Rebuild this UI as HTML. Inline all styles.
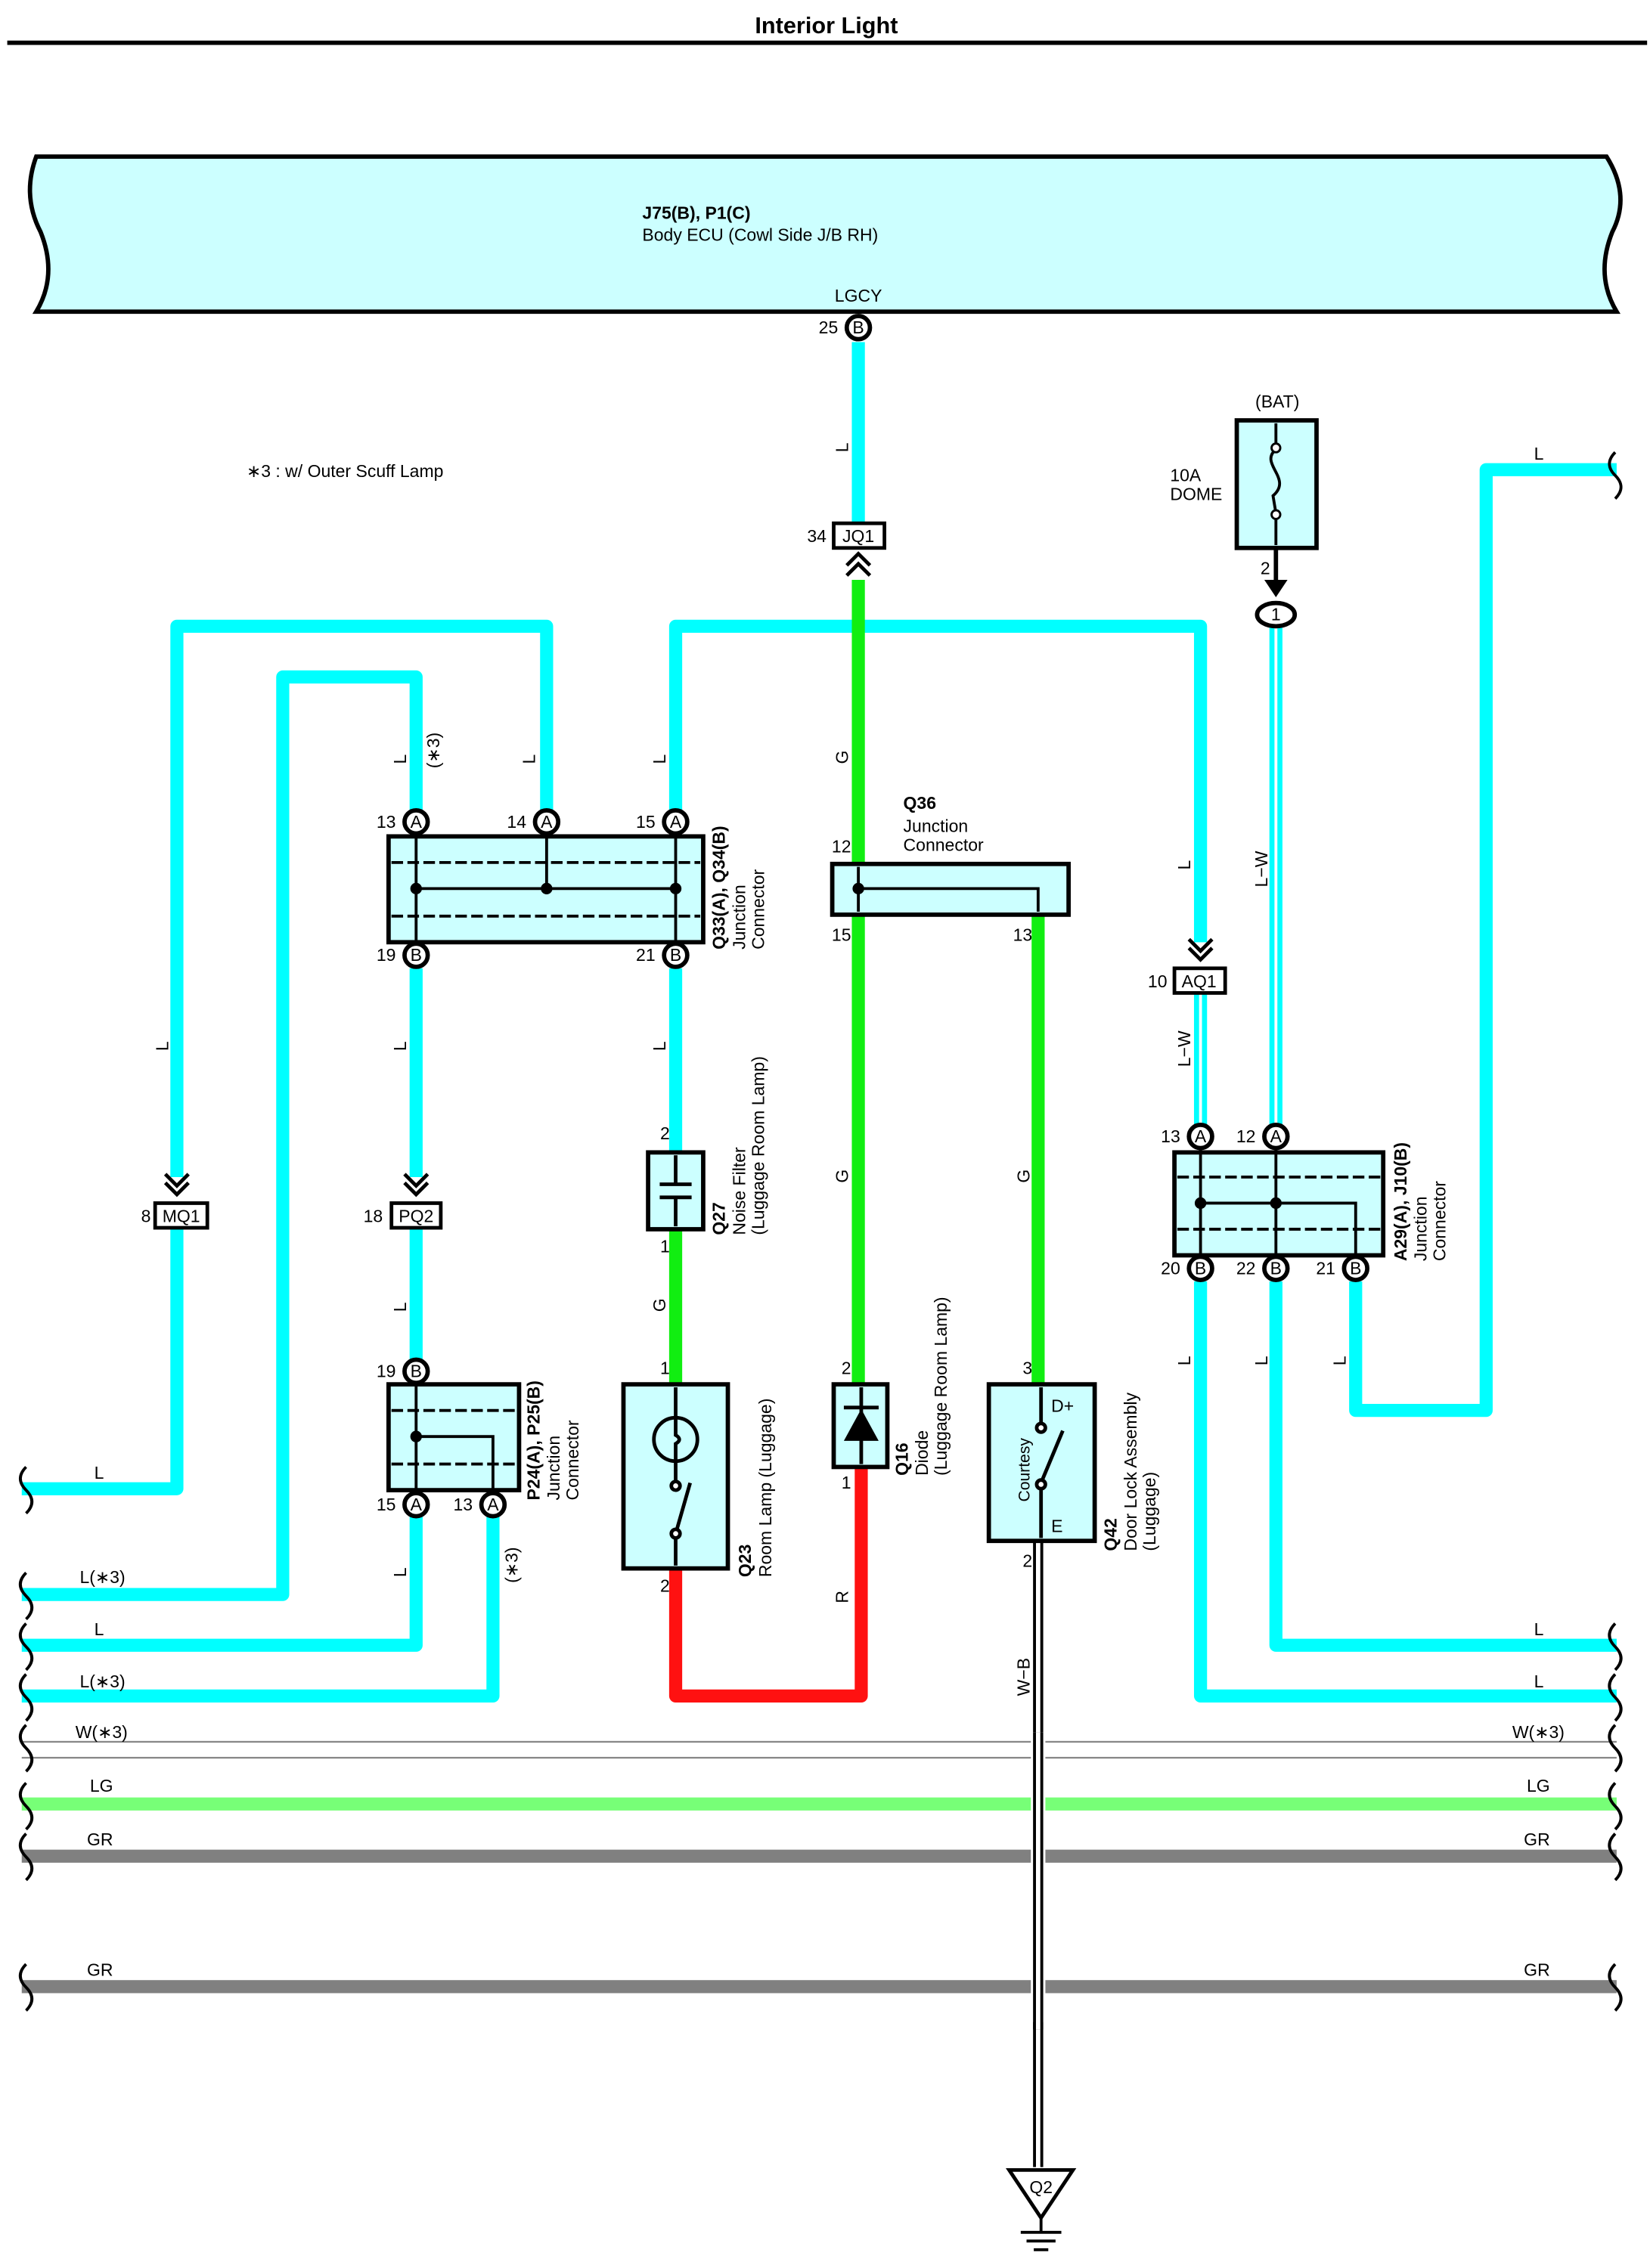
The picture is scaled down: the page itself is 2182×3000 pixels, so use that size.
<!DOCTYPE html>
<html><head><meta charset="utf-8"><style>
html,body{margin:0;padding:0;background:#fff}
svg{display:block}
text{font-family:"Liberation Sans",sans-serif;font-size:12px;fill:#000}
.b{font-weight:bold}
</style></head><body>
<svg width="2182" height="3000" viewBox="0 0 1138 1564.6" preserveAspectRatio="none" xmlns="http://www.w3.org/2000/svg">
<defs>
<g id="chev"><path d="M-8,-8 L0,0 L8,-8 M-8,-2 L0,6 L8,-2" fill="none" stroke="#000" stroke-width="2.5"/></g>
</defs>
<text x="570" y="23" text-anchor="middle" class="b" style="font-size:16px">Interior Light</text>
<rect x="5" y="28" width="1131" height="3" fill="#000"/>

<!-- ECU -->
<path d="M25,108 L1108,108 Q1125,135 1112,160 Q1100,190 1115,215 L25,215 Q40,190 28,160 Q15,135 25,108 Z" fill="#ccffff" stroke="#000" stroke-width="3"/>
<text x="443" y="151" class="b">J75(B), P1(C)</text>
<text x="443" y="166">Body ECU (Cowl Side J/B RH)</text>
<text x="592" y="208" text-anchor="middle">LGCY</text>

<g fill="none" stroke-linejoin="round">
<g stroke="#00ffff" stroke-width="9">
<path d="M592,236 V362"/>
<path d="M466,560 V432 H828 V650"/>
<path d="M377,560 V432 H122 V812"/>
<path d="M287,560 V467 H195 V1100 H15"/>
<path d="M466,668 V795"/>
<path d="M287,668 V812"/>
<path d="M287,847 V938"/>
<path d="M122,847 V1027 H15"/>
<path d="M287,1046 V1135 H15"/>
<path d="M340,1046 V1170 H15"/>
<path d="M828,884 V1170 H1115"/>
<path d="M880,884 V1135 H1115"/>
<path d="M935,884 V973 H1025 V324 H1115"/>
<path d="M880,432 V776" />
<path d="M828,685 V776" />
</g>
<path d="M880,432 V776 M828,685 V776" stroke="#fff" stroke-width="2"/>
<g stroke="#11ee11" stroke-width="9">
<path d="M592,400 V955"/>
<path d="M466,848 V955"/>
<path d="M716,631 V955"/>
</g>
<path d="M466,1082 V1170 H594 V1012" stroke="#ff1111" stroke-width="9"/>
<path d="M716,1063 V1495" stroke="#000" stroke-width="7"/>
<path d="M716,1063 V1495" stroke="#fff" stroke-width="3"/>
<path d="M880,378 V402" stroke="#000" stroke-width="3"/>
</g>
<path d="M872,400 L880,412 L888,400 Z" fill="#000"/>

<rect x="15" y="1201" width="1100" height="1.2" fill="#888"/>
<rect x="15" y="1212" width="1100" height="1.2" fill="#888"/>
<rect x="15" y="1240" width="1100" height="9" fill="#77ff77"/>
<rect x="15" y="1276" width="1100" height="9" fill="#808080"/>
<rect x="15" y="1366" width="1100" height="9" fill="#808080"/>
<rect x="711" y="1195" width="10" height="200" fill="#fff"/>
<path d="M716,1195 V1400" stroke="#000" stroke-width="7"/>
<path d="M716,1195 V1400" stroke="#fff" stroke-width="3"/>

<g fill="none" stroke="#000" stroke-width="2">
<path d="M18,1012 q-8,8 0,16 q8,8 0,16"/>
<path d="M18,1085 q-8,8 0,16 q8,8 0,16"/>
<path d="M18,1120 q-8,8 0,16 q8,8 0,16"/>
<path d="M18,1155 q-8,8 0,16 q8,8 0,16"/>
<path d="M18,1190 q-8,8 0,16 q8,8 0,16"/>
<path d="M18,1230 q-8,8 0,16 q8,8 0,16"/>
<path d="M18,1265 q-8,8 0,16 q8,8 0,16"/>
<path d="M18,1355 q-8,8 0,16 q8,8 0,16"/>
<path d="M1114,312 q-8,8 0,16 q8,8 0,16"/>
<path d="M1114,1120 q-8,8 0,16 q8,8 0,16"/>
<path d="M1114,1155 q-8,8 0,16 q8,8 0,16"/>
<path d="M1114,1190 q-8,8 0,16 q8,8 0,16"/>
<path d="M1114,1230 q-8,8 0,16 q8,8 0,16"/>
<path d="M1114,1265 q-8,8 0,16 q8,8 0,16"/>
<path d="M1114,1355 q-8,8 0,16 q8,8 0,16"/>
</g>

<g stroke="#000" stroke-width="3" fill="#fff">
<circle cx="592" cy="226" r="8"/>
<circle cx="287" cy="567" r="8"/><circle cx="377" cy="567" r="8"/><circle cx="466" cy="567" r="8"/>
<circle cx="287" cy="659" r="8"/><circle cx="466" cy="659" r="8"/>
<circle cx="287" cy="946" r="8"/>
<circle cx="287" cy="1038" r="8"/><circle cx="340" cy="1038" r="8"/>
<circle cx="828" cy="784" r="8"/><circle cx="880" cy="784" r="8"/>
<circle cx="828" cy="875" r="8"/><circle cx="880" cy="875" r="8"/><circle cx="935" cy="875" r="8"/>
<ellipse cx="880" cy="424" rx="13" ry="8"/>
</g>
<g text-anchor="middle" style="font-size:12px">
<text x="592" y="230">B</text>
<text x="287" y="571">A</text><text x="377" y="571">A</text><text x="466" y="571">A</text>
<text x="287" y="663">B</text><text x="466" y="663">B</text>
<text x="287" y="950">B</text>
<text x="287" y="1042">A</text><text x="340" y="1042">A</text>
<text x="828" y="788">A</text><text x="880" y="788">A</text>
<text x="828" y="879">B</text><text x="880" y="879">B</text><text x="935" y="879">B</text>
<text x="880" y="428">1</text>
</g>
<g text-anchor="end">
<text x="578" y="230">25</text>
<text x="273" y="571">13</text><text x="363" y="571">14</text><text x="452" y="571">15</text>
<text x="273" y="663">19</text><text x="452" y="663">21</text>
<text x="273" y="950">19</text>
<text x="273" y="1042">15</text><text x="326" y="1042">13</text>
<text x="814" y="788">13</text><text x="866" y="788">12</text>
<text x="814" y="879">20</text><text x="866" y="879">22</text><text x="921" y="879">21</text>
<text x="570" y="374">34</text><text x="104" y="843">8</text><text x="264" y="843">18</text><text x="805" y="681">10</text>
<text x="462" y="786">2</text><text x="462" y="864">1</text><text x="462" y="948">1</text><text x="462" y="1098">2</text>
<text x="587" y="948">2</text><text x="587" y="1027">1</text>
<text x="712" y="948">3</text><text x="712" y="1081">2</text>
<text x="587" y="588">12</text><text x="587" y="649">15</text><text x="712" y="649">13</text>
<text x="876" y="396">2</text>
</g>

<g stroke="#000" stroke-width="2.5" fill="#fff">
<rect x="575" y="361" width="35" height="17"/>
<rect x="107" y="830" width="36" height="17"/>
<rect x="270" y="830" width="34" height="17"/>
<rect x="810" y="668" width="35" height="17"/>
</g>
<g text-anchor="middle">
<text x="592" y="374">JQ1</text><text x="125" y="843">MQ1</text><text x="287" y="843">PQ2</text><text x="827" y="681">AQ1</text>
</g>
<path d="M584,390 L592,382 L600,390 M584,397 L592,389 L600,397" fill="none" stroke="#000" stroke-width="2.5"/>
<use href="#chev" x="122" y="818"/>
<use href="#chev" x="287" y="818"/>
<use href="#chev" x="828" y="656"/>

<!-- Q33 -->
<rect x="268" y="577" width="217" height="73" fill="#ccffff" stroke="#000" stroke-width="3"/>
<g stroke="#000" stroke-width="2" fill="none">
<path d="M270,595 H483 M270,632 H483" stroke-dasharray="8,3"/>
<path d="M287,575 V652 M466,575 V652 M377,575 V613 M287,613 H466"/>
</g>
<circle cx="287" cy="613" r="4"/><circle cx="377" cy="613" r="4"/><circle cx="466" cy="613" r="4"/>
<g transform="translate(500,655) rotate(-90)"><text class="b">Q33(A), Q34(B)</text><text y="14">Junction</text><text y="27">Connector</text></g>

<!-- P24 -->
<rect x="268" y="955" width="90" height="73" fill="#ccffff" stroke="#000" stroke-width="3"/>
<g stroke="#000" stroke-width="2" fill="none">
<path d="M270,973 H356 M270,1010 H356" stroke-dasharray="8,3"/>
<path d="M287,953 V1030 M287,991 H340 V1030"/>
</g>
<circle cx="287" cy="991" r="4"/>
<g transform="translate(372,1035) rotate(-90)"><text class="b">P24(A), P25(B)</text><text y="14">Junction</text><text y="27">Connector</text></g>

<!-- A29 -->
<rect x="810" y="795" width="144" height="71" fill="#ccffff" stroke="#000" stroke-width="3"/>
<g stroke="#000" stroke-width="2" fill="none">
<path d="M812,812 H952 M812,848 H952" stroke-dasharray="8,3"/>
<path d="M828,793 V868 M880,793 V868 M828,830 H935 V868"/>
</g>
<circle cx="828" cy="830" r="4"/><circle cx="880" cy="830" r="4"/>
<g transform="translate(970,870) rotate(-90)"><text class="b">A29(A), J10(B)</text><text y="14">Junction</text><text y="27">Connector</text></g>

<!-- Q36 -->
<rect x="574" y="596" width="163" height="35" fill="#ccffff" stroke="#000" stroke-width="3"/>
<path d="M592,598 V629 M592,613 H716 V629" stroke="#000" stroke-width="2" fill="none"/>
<circle cx="592" cy="613" r="4"/>
<text x="623" y="558" class="b">Q36</text><text x="623" y="574">Junction</text><text x="623" y="587">Connector</text>

<!-- Q27 -->
<rect x="447" y="795" width="38" height="53" fill="#ccffff" stroke="#000" stroke-width="3"/>
<path d="M466,797 V817 M466,826 V846 M455,817 H477 M455,826 H477" stroke="#000" stroke-width="2.5" fill="none"/>
<g transform="translate(500,852) rotate(-90)"><text class="b">Q27</text><text y="14">Noise Filter</text><text y="27">(Luggage Room Lamp)</text></g>

<!-- Q23 -->
<rect x="430" y="955" width="72" height="127" fill="#ccffff" stroke="#000" stroke-width="3"/>
<g stroke="#000" stroke-width="2.5" fill="none">
<path d="M466,957 V978 M466,1008 V1022 M466,1060 V1080"/>
<circle cx="466" cy="993" r="15"/>
<path d="M466,978 V990 q5,3 0,6 V1008"/>
<path d="M466,1058 L476,1023"/>
<circle cx="466" cy="1025" r="3" fill="#fff"/><circle cx="466" cy="1058" r="3" fill="#fff"/>
</g>
<g transform="translate(518,1088) rotate(-90)"><text class="b">Q23</text><text y="14">Room Lamp (Luggage)</text></g>

<!-- Q16 -->
<rect x="575" y="955" width="37" height="57" fill="#ccffff" stroke="#000" stroke-width="3"/>
<path d="M594,957 V1010 M582,971 H606" stroke="#000" stroke-width="2.5"/>
<path d="M582,994 L606,994 L594,972 Z" fill="#000"/>
<g transform="translate(626,1018) rotate(-90)"><text class="b">Q16</text><text y="14">Diode</text><text y="27">(Luggage Room Lamp)</text></g>

<!-- Q42 -->
<rect x="682" y="955" width="73" height="108" fill="#ccffff" stroke="#000" stroke-width="3"/>
<g stroke="#000" stroke-width="2.5" fill="none">
<path d="M718,957 V983 M718,1025 V1061 M718,1023 L733,987"/>
<circle cx="718" cy="985" r="3" fill="#fff"/><circle cx="718" cy="1024" r="3" fill="#fff"/>
</g>
<text x="725" y="974">D+</text><text x="725" y="1057">E</text>
<g transform="translate(710,1036) rotate(-90)"><text style="font-size:11px">Courtesy</text></g>
<g transform="translate(770,1070) rotate(-90)"><text class="b">Q42</text><text y="14">Door Lock Assembly</text><text y="27">(Luggage)</text></g>

<!-- ground -->
<path d="M696,1497 H740 L718,1530 Z" fill="#fff" stroke="#000" stroke-width="2.5"/>
<text x="718" y="1513" text-anchor="middle">Q2</text>
<path d="M718,1530 V1540 M704,1540 H732 M708,1546 H728 M713,1552 H723" stroke="#000" stroke-width="2"/>

<!-- fuse -->
<rect x="853" y="290" width="55" height="88" fill="#ccffff" stroke="#000" stroke-width="3"/>
<path d="M880,292 V307 M880,356 V376 M880,310 c-12,10 12,20 -2,32 l2,12" stroke="#000" stroke-width="2" fill="none"/>
<circle cx="880" cy="309" r="3" fill="#fff" stroke="#000" stroke-width="1.5"/><circle cx="880" cy="355" r="3" fill="#fff" stroke="#000" stroke-width="1.5"/>
<text x="881" y="281" text-anchor="middle">(BAT)</text>
<text x="807" y="332">10A</text><text x="807" y="345">DOME</text>

<text x="170" y="329">∗3 : w/ Outer Scuff Lamp</text>

<g>
<g transform="translate(585,312) rotate(-90)"><text>L</text></g>
<g transform="translate(585,527) rotate(-90)"><text>G</text></g>
<g transform="translate(585,816) rotate(-90)"><text>G</text></g>
<g transform="translate(710,816) rotate(-90)"><text>G</text></g>
<g transform="translate(585,1106) rotate(-90)"><text>R</text></g>
<g transform="translate(710,1170) rotate(-90)"><text>W−B</text></g>
<g transform="translate(459,905) rotate(-90)"><text>G</text></g>
<g transform="translate(459,725) rotate(-90)"><text>L</text></g>
<g transform="translate(459,527) rotate(-90)"><text>L</text></g>
<g transform="translate(369,527) rotate(-90)"><text>L</text></g>
<g transform="translate(280,527) rotate(-90)"><text>L</text></g>
<g transform="translate(303,530) rotate(-90)"><text>(∗3)</text></g>
<g transform="translate(280,725) rotate(-90)"><text>L</text></g>
<g transform="translate(280,905) rotate(-90)"><text>L</text></g>
<g transform="translate(280,1088) rotate(-90)"><text>L</text></g>
<g transform="translate(357,1092) rotate(-90)"><text>(∗3)</text></g>
<g transform="translate(116,725) rotate(-90)"><text>L</text></g>
<g transform="translate(821,600) rotate(-90)"><text>L</text></g>
<g transform="translate(874,612) rotate(-90)"><text>L−W</text></g>
<g transform="translate(821,736) rotate(-90)"><text>L−W</text></g>
<g transform="translate(821,942) rotate(-90)"><text>L</text></g>
<g transform="translate(874,942) rotate(-90)"><text>L</text></g>
<g transform="translate(928,942) rotate(-90)"><text>L</text></g>
</g>
<text x="65" y="1020">L</text>
<text x="55" y="1092">L(∗3)</text>
<text x="65" y="1128">L</text>
<text x="55" y="1164">L(∗3)</text>
<text x="52" y="1199">W(∗3)</text>
<text x="62" y="1236">LG</text>
<text x="60" y="1273">GR</text>
<text x="60" y="1363">GR</text>
<text x="1058" y="317">L</text>
<text x="1058" y="1128">L</text>
<text x="1058" y="1164">L</text>
<text x="1043" y="1199">W(∗3)</text>
<text x="1053" y="1236">LG</text>
<text x="1051" y="1273">GR</text>
<text x="1051" y="1363">GR</text>
</svg>
</body></html>
